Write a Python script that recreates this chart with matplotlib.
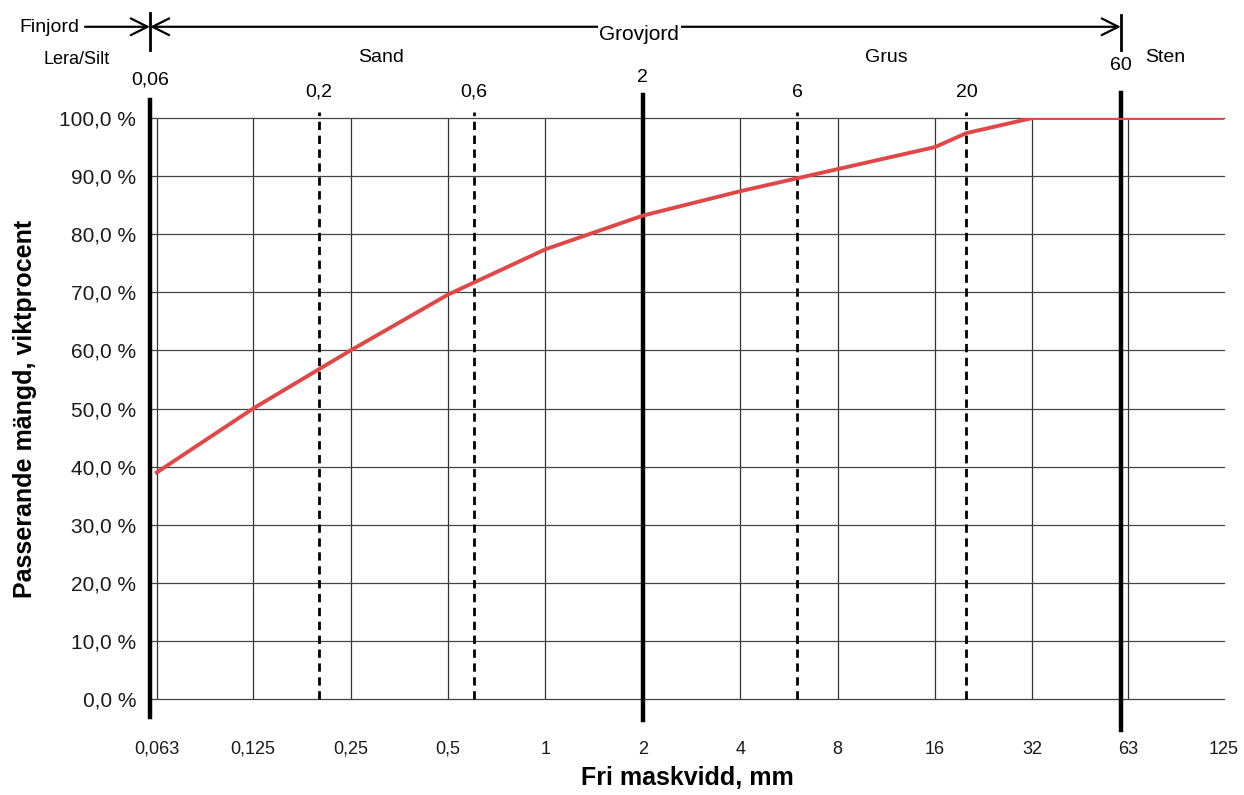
import numpy as np
import matplotlib.pyplot as plt
import matplotlib.transforms as mtransforms

plt.rcParams['font.family'] = ['Liberation Sans', 'DejaVu Sans']

# sieve sizes (mm) and passing percentage
sizes = [0.063, 0.125, 0.25, 0.5, 1, 2, 4, 8, 16, 20, 32, 63, 125]
passing = [39.0, 50.0, 60.0, 69.6, 77.4, 83.2, 87.4, 91.2, 95.0, 97.4, 100.0, 100.0, 100.0]

tick_vals = [0.063, 0.125, 0.25, 0.5, 1, 2, 4, 8, 16, 32, 63, 125]
tick_labels = ['0,063', '0,125', '0,25', '0,5', '1', '2', '4', '8', '16', '32', '63', '125']
y_vals = list(range(0, 101, 10))
y_labels = ['%d,0 %%' % v for v in y_vals]

# fraction boundaries
thick_bounds = [0.06, 2, 60]
dashed_bounds = [0.2, 0.6, 6, 20]
bound_labels = {0.06: '0,06', 0.2: '0,2', 0.6: '0,6', 2: '2', 6: '6', 20: '20', 60: '60'}
bound_label_y = {0.06: 1.05, 0.2: 1.03, 0.6: 1.03, 2: 1.055, 6: 1.03, 20: 1.03, 60: 1.075}

fig = plt.figure(figsize=(12.44, 7.95), dpi=100)
ax = fig.add_axes([150 / 1244, 1 - 699 / 795, (1224 - 150) / 1244, (699 - 118) / 795])

ax.set_xscale('log', base=2)
ax.set_xlim(0.06, 125)
ax.set_ylim(0, 100)
for s in ax.spines.values():
    s.set_visible(False)

# grid
for v in tick_vals[:-1]:
    ax.axvline(v, color='#333333', lw=0.9, zorder=1)
for v in y_vals:
    ax.axhline(v, color='#444444', lw=0.9, zorder=1, clip_on=False)

ax.set_xticks(tick_vals)
ax.set_xticklabels(tick_labels)
ax.xaxis.set_minor_locator(plt.NullLocator())
ax.set_yticks(y_vals)
ax.set_yticklabels(y_labels)
ax.tick_params(axis='x', length=0, pad=30, labelsize=13, colors='#1a1a1a')
ax.tick_params(axis='y', length=0, pad=10, labelsize=15, colors='#1a1a1a')

ax.set_xlabel('Fri maskvidd, mm', fontsize=18, fontweight='bold', labelpad=6)
ax.set_ylabel('Passerande mängd, viktprocent', fontsize=18, fontweight='bold', labelpad=16)

# thick and dashed boundary lines
extent = {0.06: (-0.031, 1.031), 2: (-0.036, 1.04), 60: (-0.053, 1.043)}
for b in thick_bounds:
    lo, hi = extent[b]
    ax.axvline(b, ymin=lo, ymax=hi, color='black', lw=3.2, clip_on=False, zorder=3)
for b in dashed_bounds:
    ax.axvline(b, ymin=0, ymax=1.01, color='black', lw=2, ls=(0, (3, 2)), clip_on=False, zorder=3)

trans = mtransforms.blended_transform_factory(ax.transData, ax.transAxes)
for b, lab in bound_labels.items():
    ax.text(b, bound_label_y[b], lab, transform=trans, ha='center', va='bottom', fontsize=14)

# curve
ax.plot(sizes, passing, color='#e04848', lw=2.8, zorder=4, solid_joinstyle='round')

# top annotations
ytop = 1.157
ax.plot([0.06, 0.06], [1.117, 1.181], transform=trans, color='black', lw=2, clip_on=False)
ax.plot([60, 60], [1.117, 1.178], transform=trans, color='black', lw=2, clip_on=False)
ax.annotate('', xy=(0.06, ytop), xytext=(60, ytop), xycoords=trans, textcoords=trans,
            arrowprops=dict(arrowstyle='<->', lw=1.6, color='black', mutation_scale=30,
                            shrinkA=0, shrinkB=0))
ax.annotate('', xy=(0.06, ytop), xytext=(85 / 1244, ytop), xycoords=trans,
            textcoords=('figure fraction', 'axes fraction'),
            arrowprops=dict(arrowstyle='->', lw=1.6, color='black', mutation_scale=30,
                            shrinkA=0, shrinkB=0))
ax.text(1.95, 1.143, 'Grovjord', transform=trans, ha='center', va='center', fontsize=15,
        bbox=dict(facecolor='white', edgecolor='none', pad=1))
fig.text(49 / 1244, 1 - 28 / 795, 'Finjord', ha='center', va='center', fontsize=14)
fig.text(77 / 1244, 1 - 60 / 795, 'Lera/Silt', ha='center', va='center', fontsize=13)
fig.text(381 / 1244, 1 - 57 / 795, 'Sand', ha='center', va='center', fontsize=14)
fig.text(886 / 1244, 1 - 58 / 795, 'Grus', ha='center', va='center', fontsize=14)
fig.text(1165 / 1244, 1 - 57 / 795, 'Sten', ha='center', va='center', fontsize=14)

fig.savefig('out.png', dpi=100)
